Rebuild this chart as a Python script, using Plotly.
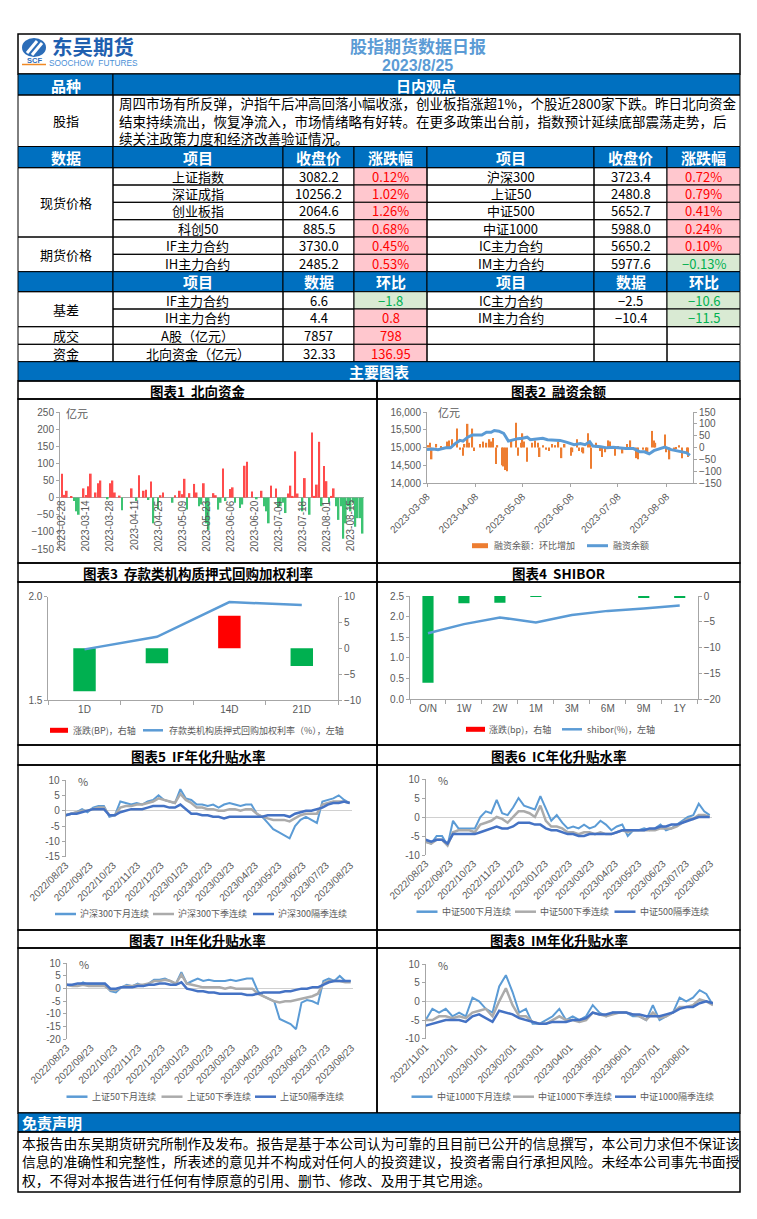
import pandas as pd
import plotly.graph_objects as go

# page pixel geometry (the browser body has an 8px margin, so the figure starts at 8,8)
OX, OY = 8, 8
FW, FH = 741, 1203
CJK = "Noto Sans CJK SC"
LAT = "Liberation Sans"
HDR_BLUE = "#0070C0"
PINK, RED_T = "#FFC7CE", "#FF0000"
LGREEN, GREEN_T = "#D9EAD3", "#00B050"
TICK = "#595959"
AXIS = "#A6A6A6"
LBLUE, GRAY, DBLUE = "#5B9BD5", "#ABABAB", "#4472C4"
ORANGE = "#ED7D31"

# ---------------- table data ----------------
report_date = "2023/8/25"
opinion_lines = [
    "周四市场有所反弹，沪指午后冲高回落小幅收涨，创业板指涨超1%，个股近2800家下跌。昨日北向资金",
    "结束持续流出，恢复净流入，市场情绪略有好转。在更多政策出台前，指数预计延续底部震荡走势，后",
    "续关注政策力度和经济改善验证情况。",
]
spot_left_items = ["上证指数", "深证成指", "创业板指", "科创50"]
spot_left_close = [3082.2, 10256.2, 2064.6, 885.5]
spot_left_chg = [0.12, 1.02, 1.26, 0.68]
spot_right_items = ["沪深300", "上证50", "中证500", "中证1000"]
spot_right_close = [3723.4, 2480.8, 5652.7, 5988.0]
spot_right_chg = [0.72, 0.79, 0.41, 0.24]
fut_left_items = ["IF主力合约", "IH主力合约"]
fut_left_close = [3730.0, 2485.2]
fut_left_chg = [0.45, 0.53]
fut_right_items = ["IC主力合约", "IM主力合约"]
fut_right_close = [5650.2, 5977.6]
fut_right_chg = [0.10, -0.13]
basis_left_items = ["IF主力合约", "IH主力合约"]
basis_left_val = [6.6, 4.4]
basis_left_chg = [-1.8, 0.8]
basis_right_items = ["IC主力合约", "IM主力合约"]
basis_right_val = [-2.5, -10.4]
basis_right_chg = [-10.6, -11.5]
turnover_item, turnover_val, turnover_chg = "A股（亿元）", 7857, 798
north_item, north_val, north_chg = "北向资金（亿元）", 32.33, 136.95
disclaimer_lines = [
    "本报告由东吴期货研究所制作及发布。报告是基于本公司认为可靠的且目前已公开的信息撰写，本公司力求但不保证该",
    "信息的准确性和完整性，所表述的意见并不构成对任何人的投资建议，投资者需自行承担风险。未经本公司事先书面授",
    "权，不得对本报告进行任何有悖原意的引用、删节、修改、及用于其它用途。",
]

# ---------------- chart data ----------------
# Chart 1: northbound flow (亿元), trading days from 2023-02-28
nb_values = [70, 8, 20, 0, 3, -10, -40, -50, 0, 27,
             8, 33, 70, 0, 15, 42, 50, 0, 0, -5,
             42, 50, 15, 0, 6, -37, 0, 0, 0, 27,
             0, -10, 65, 0, 20, 23, -7, 47, -75, 0,
             -35, 7, 15, 0, 0, 0, -15, 7, 0, 20,
             10, 55, -35, 13, 0, 40, 15, -25, -20, 42,
             -75, -95, 0, 13, 7, -35, -15, 85, -10, 0,
             25, 30, -15, 0, -30, -20, 93, 105, 0, 18,
             0, -5, 0, 20, -25, -40, -75, 35, 0, 27,
             -30, -25, -15, -45, 12, 35, 5, 135, 12, 0,
             -40, 57, 0, -50, 190, 5, 38, 163, -25, 92,
             48, -15, 5, 27, -25, -65, -25, -120, -75, -25,
             -40, -15, -85, -60, -60, -105]

# Chart 2: margin balance
mb_bar_dates = ["2023-03-09", "2023-03-10", "2023-03-11", "2023-03-14", "2023-03-17", "2023-03-21", "2023-03-22",
                "2023-03-24", "2023-03-27", "2023-03-29", "2023-03-31", "2023-04-01", "2023-04-03", "2023-04-04",
                "2023-04-06", "2023-04-07", "2023-04-11", "2023-04-13", "2023-04-15", "2023-04-17", "2023-04-18",
                "2023-04-19", "2023-04-21", "2023-04-22", "2023-04-25", "2023-04-26", "2023-04-27", "2023-04-28",
                "2023-05-01", "2023-05-04", "2023-05-05", "2023-05-07", "2023-05-08", "2023-05-09", "2023-05-11",
                "2023-05-14", "2023-05-16", "2023-05-18", "2023-05-19", "2023-05-21", "2023-05-23", "2023-05-25",
                "2023-05-27", "2023-05-29", "2023-05-31", "2023-06-02", "2023-06-04", "2023-06-08", "2023-06-09",
                "2023-06-12", "2023-06-13", "2023-06-15", "2023-06-16", "2023-06-19", "2023-06-20", "2023-06-21",
                "2023-06-24", "2023-06-27", "2023-06-28", "2023-06-30", "2023-07-02", "2023-07-03", "2023-07-06",
                "2023-07-08", "2023-07-11", "2023-07-14", "2023-07-16", "2023-07-18", "2023-07-20", "2023-07-21",
                "2023-07-24", "2023-07-26", "2023-07-27", "2023-07-30", "2023-07-31", "2023-08-01", "2023-08-07",
                "2023-08-08", "2023-08-10", "2023-08-13", "2023-08-14", "2023-08-16", "2023-08-18", "2023-08-21",
                "2023-08-22"]
mb_bar_values = [10, 20, -50, 15, 5, 25, 30,
                 35, 80, -10, -35, 15, 100, 20,
                 80, -15, 15, 25, 20, 35, 25,
                 40, -70, 10, -75, -80, -95, -100,
                 30, 105, -35, 20, 60, 25, -60,
                 20, 30, 20, -40, 10, -10, -15,
                 15, 10, 25, -45, 15, -35, -20,
                 35, -15, -20, -25, 60, 15, -90,
                 20, -15, -40, -20, 30, 25, -35,
                 5, -25, 15, 30, -10, -45, -50,
                 -10, -15, -20, 70, 30, 20, 55,
                 -20, -50, -10, -5, 10, -45, -20,
                 -40]
mb_line_dates = ["2023-03-08", "2023-03-12", "2023-03-15", "2023-03-20", "2023-03-23", "2023-03-26", "2023-03-29",
                 "2023-03-31", "2023-04-03", "2023-04-06", "2023-04-12", "2023-04-15", "2023-04-18", "2023-04-20",
                 "2023-04-23", "2023-04-26", "2023-04-29", "2023-05-02", "2023-05-05", "2023-05-08", "2023-05-11",
                 "2023-05-13", "2023-05-18", "2023-05-21", "2023-05-24", "2023-05-28", "2023-06-01", "2023-06-05",
                 "2023-06-10", "2023-06-14", "2023-06-17", "2023-06-20", "2023-06-22", "2023-06-27", "2023-07-01",
                 "2023-07-05", "2023-07-09", "2023-07-13", "2023-07-18", "2023-07-22", "2023-07-25", "2023-07-28",
                 "2023-07-31", "2023-08-03", "2023-08-07", "2023-08-11", "2023-08-14", "2023-08-18", "2023-08-21",
                 "2023-08-23"]
mb_line_values = [14940, 14960, 14940, 14990, 14990, 15110, 15200,
                  15180, 15290, 15350, 15350, 15430, 15430, 15480,
                  15460, 15400, 15180, 15220, 15250, 15260, 15290,
                  15220, 15250, 15260, 15220, 15200, 15200, 15150,
                  15080, 15110, 15080, 15160, 15040, 15020, 14990,
                  15010, 14990, 14970, 14970, 14880, 14880, 14820,
                  14910, 14960, 15010, 14940, 14910, 14890, 14850,
                  14780]

# Chart 3: pledged repo weighted rate
repo_terms = ["1D", "7D", "14D", "21D"]
repo_rate = [1.745, 1.806, 1.974, 1.960]
repo_chg_bp = [-8.3, -2.9, 6.3, -3.4]

# Chart 4: SHIBOR
shibor_terms = ["O/N", "1W", "2W", "1M", "3M", "6M", "9M", "1Y"]
shibor_rate = [1.60, 1.82, 1.98, 1.86, 2.04, 2.14, 2.20, 2.27]
shibor_chg_bp = [-16.8, -1.4, -1.3, -0.1, 0, 0, -0.3, -0.2]

# Charts 5-7: weekly samples from 2022-08-23
if_next_month = [-1.5, -1, -0.5, 0.5, -0.5, 1, 1.5, 1.5, -2, -1.5, 3, 2.5, 2, 2.5, 2, 3, 3.5, 5, 3.5, 3, 2.5, 7, 4, 3.5,
                 2, 2, 1.5, 2, 1, 2, 2.5, 2, 1.5, 2, 2, -1, -2, -4, -6, -7, -8, -9, -5, -3, -2, -3, -4, 3, 3.5, 4,
                 5, 3.5, 2.5]
if_next_quarter = [-1.5, -1, -0.5, 0, 0, 0.5, 1, 1, -1.5, -1.5, 1, 1.5, 1.5, 2, 2, 2.5, 3, 4, 3.5, 3, 2.5, 5.5, 3.5,
                   2.5, 1, 1, 0.5, 0.5, 0, 0, 0.5, 0.5, 0, 0.5, 0.5, -1, -2, -2.5, -3, -3, -3, -3.5, -2.5, -1.5, -1,
                   -1, -1, 2, 2.5, 3, 3, 3, 2.5]
if_far_quarter = [-1.5, -1, -1, -0.5, 0, 0.5, 0.5, 0.5, -1.5, -1.5, -0.5, 0, 0.5, 0.5, 0.5, 1, 1.5, 1.5, 1.5, 1, 1, 2,
                  0.5, -1, -1, -1.5, -1.5, -2, -2, -2.5, -2, -2, -2, -2, -2, -2, -2, -1.5, -1.5, -1.5, -1.5, -2, -1,
                  -0.5, 0, 0, 0.5, 1, 2, 2.5, 2.5, 3, 2.5]
ic_next_month = [-6.5, -7, -5, -5, -7.5, -1, -3, -3, -3, -3, 0, 1.5, 1, 4.5, 1, 0.5, 2.5, 5, 3, 2.5, 2, 5.5, 2, -1,
                 0.5, -1.5, -3, -2.5, -3, -2, -3, -2.5, -1, -2, -3.5, -2.5, -2, -5, -3.5, -3.5, -3, -3.5, -3, -2,
                 -3.5, -3, -2, -1, 0, 0.5, 3.5, 1.5, 0.5]
ic_next_quarter = [-6.5, -7, -6, -6, -7.5, -4, -3.5, -3.5, -3.5, -4, -2, -1.5, -1, 0, -0.5, -1.5, 0, 1.5, 1.5, 1, 0,
                   3, -1, -2.5, -2.5, -3, -4, -4, -4.5, -4, -4, -4.5, -4, -4.5, -4.5, -4, -3.5, -4, -3.5, -3.5, -3.5,
                   -3.5, -3.5, -3, -3, -3, -2.5, -1.5, -0.5, -0.5, 0.5, 0.5, 0]
ic_far_quarter = [-6, -6.5, -6, -6, -7, -4.5, -4.5, -4.5, -4.5, -4.5, -4, -3.5, -3, -2.5, -3, -3, -2.5, -1.5, -1.5,
                  -1.5, -2, -2, -3, -3.5, -3.5, -4, -4.5, -4.5, -5, -5, -4.5, -4.5, -4.5, -4.5, -4.5, -4, -3.5, -3.5,
                  -3.5, -3.5, -3.5, -3, -3, -2.5, -2.5, -2, -2, -1.5, -1, -0.5, 0, 0, 0]
ih_next_month = [1.5, 1, 1, 2.5, 1.5, 1.5, 1.5, 1.5, -1, -1.5, 0.5, 1.5, 1, 2, 1, 2, 3.5, 3.5, 4, 3, 2, 6.5, 2, 3, 4,
                 3, 3.5, 3, 3, 3, 3.5, 3, 3.5, 4, 4, -1, -3, -4, -5, -12, -13, -14, -16, -5.5, -4.5, -5, -6, 3, 4, 3,
                 5, 3, 3]
ih_next_quarter = [1.5, 1, 1, 1.5, 1, 1, 1, 1, -0.5, -0.5, 0.5, 1, 1, 1.5, 1.5, 2, 3, 3, 3.5, 3, 2, 5.5, 2, 1.5, 1,
                   0.5, 0.5, 0.5, 0.5, 0, 0.5, 0, 0, 0, 0, -2, -3, -4, -5, -5.5, -5, -5, -4.5, -4, -3.5, -3, -2, 2, 3,
                   3, 3, 2.5, 2.5]
ih_far_quarter = [1.5, 1.5, 2, 2, 2, 2, 2, 2, 0, 0, 0.5, 0.5, 0.5, 1, 1, 1.5, 1.5, 2, 2, 1.5, 1.5, 2.5, 0, -0.5, -1,
                  -1, -1.5, -1.5, -2, -2, -2, -2, -2, -2.5, -2.5, -2, -1.5, -1.5, -1.5, -1.5, -1, -1, -0.5, 0, 0, 0.5,
                  0.5, 1.5, 2.5, 3, 3, 3, 3]
# Chart 8: weekly samples from 2022-11-01
im_next_month = [-5, -2, -3, -2, -4, -3, -4, 1, 0, -2, -3, 4, 7, 2.5, -3, -2, -6, -6, -5, -4, -2, -5, -4, -5, -4, -1,
                 -3, -4, -3, -3, -3, -4, -4, -5, -1, -5, -4, -3, 1, 0, 1, 3, 2, -1]
im_next_quarter = [-5, -5, -4, -4, -4.5, -4, -4.5, -3, -2.5, -2, -4, 0, 3.5, -1, -4, -4, -5.5, -6, -6, -5, -4, -5, -5,
                   -5.5, -5, -3, -3.5, -4, -3.5, -3, -3, -3.5, -4, -5, -3, -4.5, -4, -3, -1.5, -1.5, -1, 0.5, 0, -1]
im_far_quarter = [-6.5, -6, -5.5, -5, -5, -5, -5.5, -4, -3.5, -4.5, -5.5, -2.5, -3, -3.5, -4.5, -5, -5.5, -6, -6, -5.5,
                  -5.5, -5.5, -5, -5, -4.5, -3, -3.5, -3.5, -3, -3, -3, -3.5, -3.5, -4, -4, -4, -3.5, -3, -2, -1.5,
                  -1.5, -0.5, 0, -0.5]

# ---------------- helpers ----------------
shapes, annotations = [], []


def fx(x):
    return (x - OX) / FW


def fy(y):
    return 1 - (y - OY) / FH


def yd(top, bottom):
    return [fy(bottom), fy(top)]


def rect(x0, y0, x1, y1, fill=None, lw=1, color="black"):
    shapes.append(dict(type="rect", xref="paper", yref="paper", x0=fx(x0), x1=fx(x1), y0=fy(y1), y1=fy(y0),
                       fillcolor=fill if fill else "rgba(0,0,0,0)", line=dict(color=color, width=lw), layer="below"))


def seg(x0, y0, x1, y1, color, width):
    shapes.append(dict(type="line", xref="paper", yref="paper", x0=fx(x0), x1=fx(x1), y0=fy(y0), y1=fy(y1),
                       line=dict(color=color, width=width)))


def text(x, y, s, size=13, color="black", bold=False, xanchor="center", family=CJK, align="center"):
    annotations.append(dict(xref="paper", yref="paper", x=fx(x), y=fy(y), text=("<b>%s</b>" % s) if bold else s,
                            showarrow=False, xanchor=xanchor, yanchor="middle", align=align,
                            font=dict(family=family, size=size, color=color)))


def mfmt(v, nd=1):
    return ("%.*f" % (nd, v)).replace("-", "−")


def legend_box(x0, x1, y, color, tx, label):
    shapes.append(dict(type="rect", xref="paper", yref="paper", x0=fx(x0), x1=fx(x1), y0=fy(y + 2.5),
                       y1=fy(y - 2.5), fillcolor=color, line=dict(width=0)))
    text(tx, y, label, size=9, color=TICK, xanchor="left")


def legend_line(x0, x1, y, color, tx, label, width=2.5):
    seg(x0, y, x1, y, color, width)
    text(tx, y, label, size=9, color=TICK, xanchor="left")


# ---------------- header ----------------
rect(18, 34, 740, 74, lw=1.5)
shapes.append(dict(type="circle", xref="paper", yref="paper", x0=fx(22), x1=fx(46), y0=fy(57), y1=fy(38),
                   fillcolor="#2C6DB8", line=dict(width=0)))
seg(27, 53, 37, 41, "white", 3)
seg(32, 55, 42, 43, "white", 3)
seg(22, 64.5, 46, 64.5, "#F08A24", 1.5)
text(34, 60.5, "SCF", size=7.5, color="#2C6DB8", bold=True, family=LAT)
text(93, 46, "东吴期货", size=20.5, color="#1F5FAF", bold=True)
text(93.5, 63, "SOOCHOW  FUTURES", size=8.3, color="#4A8FD6", family=LAT)
text(418, 45, "股指期货数据日报", size=17, color="#5B9BD5", bold=True)
text(417, 65, report_date, size=16, color="#5B9BD5", bold=True, family=LAT)

# ---------------- opinion block ----------------
rect(18, 74, 113, 95, HDR_BLUE)
rect(113, 74, 740, 95, HDR_BLUE)
text(65.5, 85, "品种", size=15, color="white", bold=True)
text(426.5, 85, "日内观点", size=15, color="white", bold=True)
rect(18, 95, 113, 146.5)
rect(113, 95, 740, 146.5)
text(65.5, 121, "股指", size=13)
text(117, 121, "<br>".join(opinion_lines), size=13.5, xanchor="left", align="left")

# ---------------- data table ----------------
cols = [18, 113, 283, 354, 427, 594, 667, 740]


def cell(c0, c1, r0, r1, s="", fill=None, color="black", size=13, bold=False):
    rect(cols[c0], r0, cols[c1], r1, fill)
    if s != "":
        text((cols[c0] + cols[c1]) / 2, (r0 + r1) / 2, s, size=size, color=color, bold=bold)


def chg_cell(c, r0, r1, v, s):
    if v >= 0:
        cell(c, c + 1, r0, r1, s, PINK, RED_T)
    else:
        cell(c, c + 1, r0, r1, s, LGREEN, GREEN_T)


hdr1 = ["数据", "项目", "收盘价", "涨跌幅", "项目", "收盘价", "涨跌幅"]
for c, s in enumerate(hdr1):
    cell(c, c + 1, 146.5, 167.7, s, HDR_BLUE, "white", 15, True)
rows1 = [167.7, 185, 202.3, 219.7, 237, 254.3, 271.7]
cell(0, 1, rows1[0], rows1[4], "现货价格")
cell(0, 1, rows1[4], rows1[6], "期货价格")
left_items = spot_left_items + fut_left_items
left_close = spot_left_close + fut_left_close
left_chg = spot_left_chg + fut_left_chg
right_items = spot_right_items + fut_right_items
right_close = spot_right_close + fut_right_close
right_chg = spot_right_chg + fut_right_chg
for i in range(6):
    r0, r1 = rows1[i], rows1[i + 1]
    cell(1, 2, r0, r1, left_items[i])
    cell(2, 3, r0, r1, "%.1f" % left_close[i])
    chg_cell(3, r0, r1, left_chg[i], mfmt(left_chg[i], 2) + "%")
    cell(4, 5, r0, r1, right_items[i])
    cell(5, 6, r0, r1, "%.1f" % right_close[i])
    chg_cell(6, r0, r1, right_chg[i], mfmt(right_chg[i], 2) + "%")

hdr2 = ["", "项目", "数据", "环比", "项目", "数据", "环比"]
for c, s in enumerate(hdr2):
    cell(c, c + 1, 271.7, 291.7, s, HDR_BLUE, "white", 15, True)
rows2 = [291.7, 309, 326.7, 344.3, 361.7]
cell(0, 1, rows2[0], rows2[2], "基差")
for i in range(2):
    r0, r1 = rows2[i], rows2[i + 1]
    cell(1, 2, r0, r1, basis_left_items[i])
    cell(2, 3, r0, r1, mfmt(basis_left_val[i]))
    chg_cell(3, r0, r1, basis_left_chg[i], mfmt(basis_left_chg[i]))
    cell(4, 5, r0, r1, basis_right_items[i])
    cell(5, 6, r0, r1, mfmt(basis_right_val[i]))
    chg_cell(6, r0, r1, basis_right_chg[i], mfmt(basis_right_chg[i]))
cell(0, 1, rows2[2], rows2[3], "成交")
cell(1, 2, rows2[2], rows2[3], turnover_item)
cell(2, 3, rows2[2], rows2[3], str(turnover_val))
chg_cell(3, rows2[2], rows2[3], turnover_chg, str(turnover_chg))
cell(0, 1, rows2[3], rows2[4], "资金")
cell(1, 2, rows2[3], rows2[4], north_item)
cell(2, 3, rows2[3], rows2[4], "%.2f" % north_val)
chg_cell(3, rows2[3], rows2[4], north_chg, "%.2f" % north_chg)
for r in range(2, 4):
    for c in range(4, 7):
        cell(c, c + 1, rows2[r], rows2[r + 1])

# ---------------- chart panels ----------------
rect(18, 361.7, 740, 381, HDR_BLUE)
text(379, 371.5, "主要图表", size=15, color="white", bold=True)
panels = [(381, 399, 563), (563, 582, 745), (745, 765, 930), (930, 948, 1113)]
titles = [("图表1  北向资金", "图表2  融资余额"), ("图表3  存款类机构质押式回购加权利率", "图表4  SHIBOR"),
          ("图表5  IF年化升贴水率", "图表6  IC年化升贴水率"), ("图表7  IH年化升贴水率", "图表8  IM年化升贴水率")]
for (t0, t1, b), (tl, tr) in zip(panels, titles):
    for (a, c), tt in (((18, 377), tl), ((377, 740), tr)):
        rect(a, t0, c, t1, lw=1.5)
        rect(a, t1, c, b, lw=1.5)
        text((a + c) / 2, (t0 + t1) / 2 + 0.5, tt, size=13.5, bold=True)

rect(18, 1113, 740, 1132, HDR_BLUE)
text(20, 1122.5, "免责声明", size=15, color="white", bold=True, xanchor="left")
rect(18, 1132, 740, 1192, lw=1.5)
for i, ln in enumerate(disclaimer_lines):
    text(19.5, 1143 + i * 18.3, ln, size=13.8, xanchor="left")

# ---------------- traces ----------------
fig = go.Figure()
tfont = dict(family=LAT, size=10, color=TICK)

# chart 1
nb_dates = [d.strftime("%Y-%m-%d") for d in pd.bdate_range("2023-02-28", periods=len(nb_values))]
fig.add_trace(go.Bar(x=nb_dates, y=nb_values, width=0.72,
                     marker=dict(color=["#FF4B4B" if v >= 0 else "#3CC372" for v in nb_values], line=dict(width=0)),
                     xaxis="x", yaxis="y", hoverinfo="skip"))
for i in range(0, len(nb_dates), 10):
    annotations.append(dict(xref="x", yref="y", x=nb_dates[i], y=0, text=nb_dates[i], textangle=-90,
                            showarrow=False, xanchor="center", yanchor="top",
                            font=dict(family=LAT, size=10, color=TICK)))
text(64, 413, "亿元", size=11, color=TICK, xanchor="left")

# chart 2
fig.add_trace(go.Bar(x=mb_bar_dates, y=mb_bar_values, width=86400000 * 0.9, name="融资余额：环比增加",
                     marker=dict(color=ORANGE, line=dict(width=0)), xaxis="x2", yaxis="y2"))
fig.add_trace(go.Scatter(x=mb_line_dates, y=mb_line_values, mode="lines", name="融资余额",
                         line=dict(color=LBLUE, width=3), xaxis="x2", yaxis="y3"))
text(436, 412, "亿元", size=11, color=TICK, xanchor="left")
legend_box(472, 488, 545.7, ORANGE, 492, "融资余额：环比增加")
legend_line(587, 608, 545.7, LBLUE, 611, "融资余额", 3)

# chart 3
fig.add_trace(go.Bar(x=repo_terms, y=repo_chg_bp, width=0.31, name="涨跌(BP)，右轴",
                     marker=dict(color=["#FF0000" if v > 0 else "#00B050" for v in repo_chg_bp], line=dict(width=0)),
                     xaxis="x3", yaxis="y4"))
fig.add_trace(go.Scatter(x=repo_terms, y=repo_rate, mode="lines", name="存款类机构质押式回购加权利率（%），左轴",
                         line=dict(color=LBLUE, width=2.5), xaxis="x3", yaxis="y5"))
legend_box(50, 68, 730.3, "#FF0000", 70.5, "涨跌(BP)，右轴")
legend_line(143, 163, 730.3, LBLUE, 166.5, "存款类机构质押式回购加权利率（%），左轴")

# chart 4
fig.add_trace(go.Bar(x=shibor_terms, y=shibor_chg_bp, width=0.31, name="涨跌(bp)，右轴",
                     marker=dict(color=["#FF0000" if v > 0 else "#00B050" for v in shibor_chg_bp], line=dict(width=0)),
                     xaxis="x4", yaxis="y6"))
fig.add_trace(go.Scatter(x=shibor_terms, y=shibor_rate, mode="lines", name="shibor(%)，左轴",
                         line=dict(color=LBLUE, width=2.5), xaxis="x4", yaxis="y7"))
legend_box(466, 485, 729.3, "#FF0000", 487, "涨跌(bp)，右轴")
legend_line(562, 582, 729.3, LBLUE, 584.5, "shibor(%)，左轴")

# charts 5-8
basis_charts = [
    ("x5", "y8", "2022-08-23", [("沪深300下月连续", if_next_month), ("沪深300下季连续", if_next_quarter),
                                ("沪深300隔季连续", if_far_quarter)], 914, [55, 153, 253]),
    ("x6", "y9", "2022-08-23", [("中证500下月连续", ic_next_month), ("中证500下季连续", ic_next_quarter),
                                ("中证500隔季连续", ic_far_quarter)], 911.7, [416.5, 515, 614.5]),
    ("x7", "y10", "2022-08-23", [("上证50下月连续", ih_next_month), ("上证50下季连续", ih_next_quarter),
                                 ("上证50隔季连续", ih_far_quarter)], 1096.7, [66.5, 161.5, 255]),
    ("x8", "y11", "2022-11-01", [("中证1000下月连续", im_next_month), ("中证1000下季连续", im_next_quarter),
                                 ("中证1000隔季连续", im_far_quarter)], 1096.7, [411.5, 513, 615]),
]
for xa, ya, start, series, ly, lxs in basis_charts:
    for (name, vals), col, wd, lx in zip(series, [LBLUE, GRAY, DBLUE], [2, 2.5, 2.5], lxs):
        dts = pd.date_range(start, periods=len(vals), freq="7D")
        fig.add_trace(go.Scatter(x=dts, y=vals, mode="lines", name=name, line=dict(color=col, width=wd),
                                 xaxis=xa, yaxis=ya))
        legend_line(lx, lx + 21, ly, col, lx + 23, name, 2.5)
text(76, 781, "%", size=11, color=TICK, xanchor="left")
text(436, 780, "%", size=11, color=TICK, xanchor="left")
text(77, 964, "%", size=11, color=TICK, xanchor="left")
text(436, 965, "%", size=11, color=TICK, xanchor="left")


# ---------------- axes ----------------
def yax(top, bottom, **kw):
    d = dict(domain=yd(top, bottom), showgrid=False, zeroline=False, showline=True, linecolor=AXIS, linewidth=1,
             ticks="outside", ticklen=3, tickcolor=AXIS, tickfont=tfont, fixedrange=True, automargin=False)
    d.update(kw)
    return d


def xax(x0, x1, **kw):
    d = dict(domain=[fx(x0), fx(x1)], showgrid=False, zeroline=False, tickfont=tfont, fixedrange=True,
             automargin=False)
    d.update(kw)
    return d


def ovl(**kw):
    d = dict(showgrid=False, zeroline=False, showline=True, linecolor=AXIS, ticks="outside", ticklen=3,
             tickcolor=AXIS, tickfont=tfont, fixedrange=True, automargin=False)
    d.update(kw)
    return d


def hyphen_ticks(lo, hi, step):
    vals = list(range(lo, hi + 1, step))
    return dict(tickmode="array", tickvals=vals, ticktext=[str(v) for v in vals], range=[lo, hi])


date_axis = dict(type="date", dtick="M1", tickformat="%Y/%m/%d", tickangle=-45, showline=False, ticks="")
layout = dict(
    template="none",
    width=FW, height=FH, margin=dict(l=0, r=0, t=0, b=0, pad=0, autoexpand=False), autosize=False,
    paper_bgcolor="white", plot_bgcolor="rgba(0,0,0,0)", barmode="relative", hovermode=False,
    showlegend=False, shapes=shapes, annotations=annotations,
    xaxis=xax(60, 364, anchor="y", type="category", range=[-0.8, 125.6], showticklabels=False, ticks="",
              showline=False),
    yaxis=yax(412, 549, anchor="x", range=[-150, 250], dtick=50, zeroline=True, zerolinecolor=AXIS,
              zerolinewidth=1),
    xaxis2=xax(427, 693, anchor="y2", type="date", range=["2023-03-08", "2023-08-25"], tick0="2023-03-08",
               dtick="M1", tickformat="%Y-%m-%d", tickangle=-45, showline=True, linecolor=AXIS, ticks="outside",
               ticklen=3, tickcolor=AXIS),
    yaxis2=yax(412, 483, anchor="x2", side="right", range=[-150, 150], dtick=50),
    yaxis3=ovl(overlaying="y2", anchor="x2", side="left", range=[14000, 16000], dtick=500, tickformat=","),
    xaxis3=xax(48.3, 338, anchor="y4", type="category", range=[-0.5, 3.5], tickson="boundaries", ticks="outside",
               ticklen=4, tickcolor=AXIS, showline=True, linecolor=AXIS),
    yaxis4=yax(596.7, 700, anchor="x3", side="right", range=[-10, 10], dtick=5),
    yaxis5=ovl(overlaying="y4", anchor="x3", side="left", range=[1.5, 2.0], dtick=0.5, tickformat=".1f"),
    xaxis4=xax(410, 697.7, anchor="y6", type="category", range=[-0.5, 7.5], tickson="boundaries", ticks="outside",
               ticklen=4, tickcolor=AXIS, showline=True, linecolor=AXIS),
    yaxis6=yax(596, 699.3, anchor="x4", side="right", range=[-20, 0], dtick=5),
    yaxis7=ovl(overlaying="y6", anchor="x4", side="left", range=[0, 2.5], dtick=0.5, tickformat=".1f"),
    xaxis5=xax(65.7, 352, anchor="y8", range=["2022-08-23", "2023-08-25"], tick0="2022-08-23", **date_axis),
    yaxis8=yax(780, 856.7, anchor="x5", zeroline=True, zerolinecolor="#D0D0D0", zerolinewidth=1,
               **hyphen_ticks(-15, 10, 5)),
    xaxis6=xax(425.7, 712, anchor="y9", range=["2022-08-23", "2023-08-25"], tick0="2022-08-23", **date_axis),
    yaxis9=yax(779, 855, anchor="x6", zeroline=True, zerolinecolor="#D0D0D0", zerolinewidth=1,
               **hyphen_ticks(-10, 10, 5)),
    xaxis7=xax(66.7, 353, anchor="y10", range=["2022-08-23", "2023-08-25"], tick0="2022-08-23", **date_axis),
    yaxis10=yax(963.3, 1039.3, anchor="x7", zeroline=True, zerolinecolor="#D0D0D0", zerolinewidth=1,
                **hyphen_ticks(-20, 10, 5)),
    xaxis8=xax(425.7, 713, anchor="y11", range=["2022-11-01", "2023-08-29"], tick0="2022-11-01", **date_axis),
    yaxis11=yax(964, 1038.7, anchor="x8", zeroline=True, zerolinecolor="#D0D0D0", zerolinewidth=1,
                **hyphen_ticks(-10, 10, 5)),
)
fig.update_layout(**layout)
fig.write_html("out.html")
